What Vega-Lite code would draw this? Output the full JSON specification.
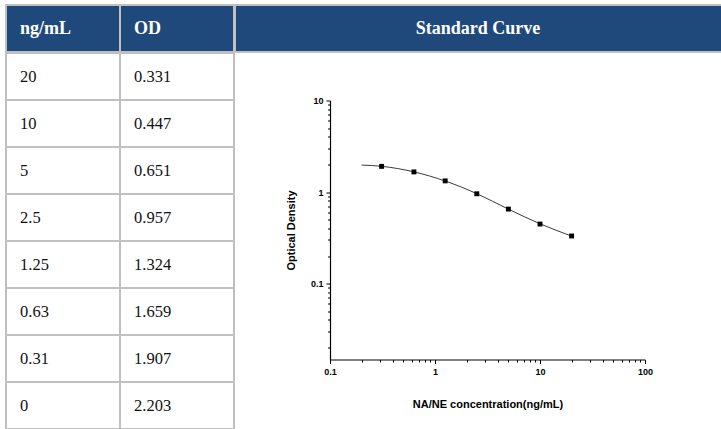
{
  "$schema": "https://vega.github.io/schema/vega-lite/v6.json",
  "padding": {"left": 5, "top": 4, "right": 0, "bottom": 0},
  "background": "white",
  "config": {"view": {"stroke": null}},
  "datasets": {
    "table": [
      {"row": "h", "col": "c", "text": "ng/mL", "kind": "header"},
      {"row": "h", "col": "o", "text": "OD", "kind": "header"},
      {"row": "r1", "col": "c", "text": "20", "kind": "body"},
      {"row": "r1", "col": "o", "text": "0.331", "kind": "body"},
      {"row": "r2", "col": "c", "text": "10", "kind": "body"},
      {"row": "r2", "col": "o", "text": "0.447", "kind": "body"},
      {"row": "r3", "col": "c", "text": "5", "kind": "body"},
      {"row": "r3", "col": "o", "text": "0.651", "kind": "body"},
      {"row": "r4", "col": "c", "text": "2.5", "kind": "body"},
      {"row": "r4", "col": "o", "text": "0.957", "kind": "body"},
      {"row": "r5", "col": "c", "text": "1.25", "kind": "body"},
      {"row": "r5", "col": "o", "text": "1.324", "kind": "body"},
      {"row": "r6", "col": "c", "text": "0.63", "kind": "body"},
      {"row": "r6", "col": "o", "text": "1.659", "kind": "body"},
      {"row": "r7", "col": "c", "text": "0.31", "kind": "body"},
      {"row": "r7", "col": "o", "text": "1.907", "kind": "body"},
      {"row": "r8", "col": "c", "text": "0", "kind": "body"},
      {"row": "r8", "col": "o", "text": "2.203", "kind": "body"}
    ],
    "curveHeader": [{"label": "Standard Curve"}],
    "std": [
      {"conc": 0.31, "od": 1.907},
      {"conc": 0.63, "od": 1.659},
      {"conc": 1.25, "od": 1.324},
      {"conc": 2.5, "od": 0.957},
      {"conc": 5, "od": 0.651},
      {"conc": 10, "od": 0.447},
      {"conc": 20, "od": 0.331}
    ],
    "fit": [
      {"conc": 0.2, "od": 1.97},
      {"conc": 0.31, "od": 1.91},
      {"conc": 0.63, "od": 1.66},
      {"conc": 1.25, "od": 1.32},
      {"conc": 2.5, "od": 0.96},
      {"conc": 5, "od": 0.65},
      {"conc": 10, "od": 0.45},
      {"conc": 20, "od": 0.33}
    ]
  },
  "spacing": -2,
  "vconcat": [
    {
      "spacing": -2,
      "hconcat": [
        {
          "width": 228,
          "height": 47,
          "data": {"name": "table"},
          "transform": [{"filter": "datum.kind === 'header'"}],
          "encoding": {
            "x": {"field": "col", "type": "nominal", "sort": null, "axis": null, "scale": {"paddingInner": 0, "paddingOuter": 0}},
            "y": {"field": "row", "type": "nominal", "sort": null, "axis": null, "scale": {"paddingInner": 0, "paddingOuter": 0}}
          },
          "layer": [
            {"mark": {"type": "rect", "fill": "#1f497b", "stroke": "#c0c0c0", "strokeWidth": 2}},
            {
              "mark": {"type": "text", "align": "left", "dx": 14, "baseline": "middle", "font": "Liberation Serif", "fontSize": 18, "fontWeight": "bold", "color": "#ffffff"},
              "encoding": {
                "x": {"field": "col", "type": "nominal", "sort": null, "bandPosition": 0, "axis": null},
                "text": {"field": "text"}
              }
            }
          ]
        },
        {
          "width": 488,
          "height": 47,
          "data": {"name": "curveHeader"},
          "layer": [
            {"mark": {"type": "rect", "fill": "#1f497b", "stroke": "#c0c0c0", "strokeWidth": 2}, "encoding": {}},
            {
              "mark": {"type": "text", "font": "Liberation Serif", "fontSize": 18, "fontWeight": "bold", "color": "#ffffff", "baseline": "middle", "dx": -1},
              "encoding": {"text": {"field": "label"}}
            }
          ]
        }
      ]
    },
    {
      "spacing": 50,
      "hconcat": [
        {
          "width": 228,
          "height": 376,
          "data": {"name": "table"},
          "transform": [{"filter": "datum.kind === 'body'"}],
          "encoding": {
            "x": {"field": "col", "type": "nominal", "sort": null, "axis": null, "scale": {"paddingInner": 0, "paddingOuter": 0}},
            "y": {"field": "row", "type": "nominal", "sort": null, "axis": null, "scale": {"paddingInner": 0, "paddingOuter": 0}}
          },
          "layer": [
            {"mark": {"type": "rect", "fill": "#ffffff", "stroke": "#c0c0c0", "strokeWidth": 2}},
            {
              "mark": {"type": "text", "align": "left", "dx": 14, "baseline": "middle", "font": "Liberation Serif", "fontSize": 16.5, "color": "#111111"},
              "encoding": {
                "x": {"field": "col", "type": "nominal", "sort": null, "bandPosition": 0, "axis": null},
                "text": {"field": "text"}
              }
            }
          ]
        },
        {
          "spacing": 42.5,
          "vconcat": [
            {"width": 1, "height": 1, "data": {"values": []}, "mark": {"type": "point"}},
            {
              "width": 315,
              "height": 259,
              "encoding": {
                "x": {
                  "field": "conc", "type": "quantitative",
                  "scale": {"type": "log", "domain": [0.1, 100], "nice": false},
                  "axis": {
                    "values": [0.1, 0.2, 0.3, 0.4, 0.5, 0.6, 0.7, 0.8, 0.9, 1, 2, 3, 4, 5, 6, 7, 8, 9, 10, 20, 30, 40, 50, 60, 70, 80, 90, 100],
                    "labelExpr": "abs(log(datum.value)/LN10 - round(log(datum.value)/LN10)) < 0.001 ? format(datum.value, '~g') : ''",
                    "grid": false, "domainColor": "#000000", "domainWidth": 1.2, "tickColor": "#000000",
                    "tickSize": {"condition": {"test": "abs(log(datum.value)/LN10 - round(log(datum.value)/LN10)) < 0.001", "value": 4}, "value": 2.5},
                    "labelFont": "Liberation Sans", "labelFontWeight": "bold", "labelFontSize": 9, "labelColor": "#000000",
                    "labelPadding": 4, "labelOverlap": false, "labelFlush": false,
                    "title": "NA/NE concentration(ng/mL)", "titleFont": "Liberation Sans", "titleFontSize": 11, "titleFontWeight": "bold", "titleColor": "#000000", "titlePadding": 22
                  }
                },
                "y": {
                  "field": "od", "type": "quantitative",
                  "scale": {"type": "log", "domain": [0.0148, 10], "nice": false},
                  "axis": {
                    "values": [0.02, 0.03, 0.04, 0.05, 0.06, 0.07, 0.08, 0.09, 0.1, 0.2, 0.3, 0.4, 0.5, 0.6, 0.7, 0.8, 0.9, 1, 2, 3, 4, 5, 6, 7, 8, 9, 10],
                    "labelExpr": "abs(log(datum.value)/LN10 - round(log(datum.value)/LN10)) < 0.001 ? format(datum.value, '~g') : ''",
                    "grid": false, "domainColor": "#000000", "domainWidth": 1.2, "tickColor": "#000000",
                    "tickSize": {"condition": {"test": "abs(log(datum.value)/LN10 - round(log(datum.value)/LN10)) < 0.001", "value": 4}, "value": 2.5},
                    "labelFont": "Liberation Sans", "labelFontWeight": "bold", "labelFontSize": 9, "labelColor": "#000000",
                    "labelPadding": 3, "labelOverlap": false, "labelFlush": false,
                    "title": "Optical Density", "titleFont": "Liberation Sans", "titleFontSize": 11, "titleFontWeight": "bold", "titleColor": "#000000", "titlePadding": 14
                  }
                }
              },
              "layer": [
                {"data": {"name": "fit"}, "mark": {"type": "line", "interpolate": "monotone", "color": "#3a3a3a", "strokeWidth": 1}},
                {"data": {"name": "std"}, "mark": {"type": "point", "shape": "square", "filled": true, "color": "#000000", "size": 24, "opacity": 1}}
              ]
            }
          ]
        }
      ]
    }
  ]
}
